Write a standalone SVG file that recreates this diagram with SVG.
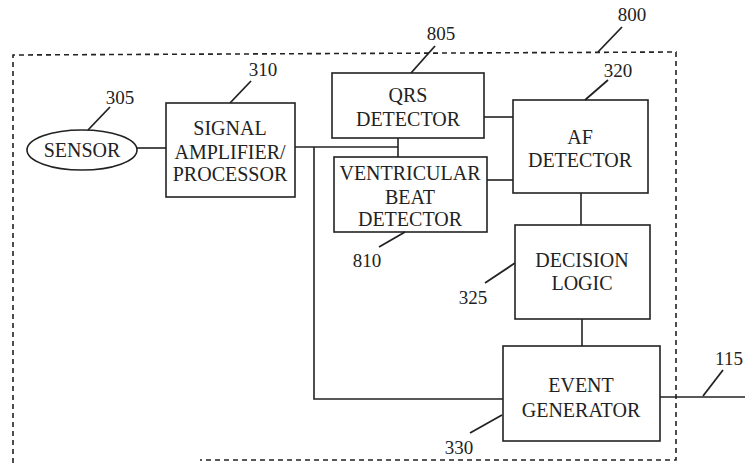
<svg xmlns="http://www.w3.org/2000/svg" width="745" height="463" viewBox="0 0 745 463">
<style>
.box{fill:#fff;stroke:#222;stroke-width:1.6}
.ln{fill:none;stroke:#222;stroke-width:1.6}
.lead{fill:none;stroke:#222;stroke-width:1.8}
.dash{fill:none;stroke:#222;stroke-width:1.6;stroke-dasharray:5 4}
text{font-family:"Liberation Serif","Times New Roman",serif;fill:#222;text-anchor:middle}
.t{font-size:20px}
.n{font-size:19px}
</style>
<rect width="745" height="463" fill="#fff"/>
<g id="boundary-800">
<path class="dash" d="M13,463 L13,55 L676,52 L676,460 L200,460"/>
<text class="n" x="632" y="21">800</text>
<path class="lead" d="M598,52 L622,27"/>
</g>
<g id="connectors">
<path class="ln" d="M137,148 L166,148"/>
<path class="ln" d="M295,147 L398,147"/>
<path class="ln" d="M398,138 L398,157"/>
<path class="ln" d="M314,147 L314,399 L503,399"/>
<path class="ln" d="M484,117 L513,117"/>
<path class="ln" d="M487,180 L513,180"/>
<path class="ln" d="M581,193 L581,225"/>
<path class="ln" d="M582,319 L582,346"/>
<path class="ln" d="M660,397 L745,397"/>
</g>
<g id="sensor-305">
<ellipse class="box" cx="82" cy="150" rx="55" ry="20"/>
<text class="t" x="82" y="157">SENSOR</text>
<text class="n" x="120" y="104">305</text>
<path class="lead" d="M88,130 L110,107"/>
</g>
<g id="signal-amplifier-310">
<rect class="box" x="166" y="103" width="129" height="94"/>
<text class="t" x="230" y="135">SIGNAL</text>
<text class="t" x="230" y="159">AMPLIFIER/</text>
<text class="t" x="230" y="181">PROCESSOR</text>
<text class="n" x="263" y="76">310</text>
<path class="lead" d="M230,103 L251,81"/>
</g>
<g id="qrs-detector-805">
<rect class="box" x="332" y="73" width="152" height="65"/>
<text class="t" x="408" y="102">QRS</text>
<text class="t" x="408" y="126">DETECTOR</text>
<text class="n" x="441" y="40">805</text>
<path class="lead" d="M411,73 L435,46"/>
</g>
<g id="ventricular-beat-detector-810">
<rect class="box" x="334" y="157" width="153" height="75"/>
<text class="t" x="410" y="180">VENTRICULAR</text>
<text class="t" x="410" y="204">BEAT</text>
<text class="t" x="410" y="226">DETECTOR</text>
<text class="n" x="367" y="267">810</text>
<path class="lead" d="M405,232 L379,247"/>
</g>
<g id="af-detector-320">
<rect class="box" x="513" y="100" width="135" height="93"/>
<text class="t" x="580" y="144">AF</text>
<text class="t" x="580" y="167">DETECTOR</text>
<text class="n" x="618" y="77">320</text>
<path class="lead" d="M585,100 L608,80"/>
</g>
<g id="decision-logic-325">
<rect class="box" x="515" y="225" width="135" height="94"/>
<text class="t" x="582" y="267">DECISION</text>
<text class="t" x="582" y="290">LOGIC</text>
<text class="n" x="473" y="304">325</text>
<path class="lead" d="M515,263 L485,283"/>
</g>
<g id="event-generator-330">
<rect class="box" x="503" y="346" width="157" height="95"/>
<text class="t" x="581" y="392">EVENT</text>
<text class="t" x="581" y="417">GENERATOR</text>
<text class="n" x="459" y="454">330</text>
<path class="lead" d="M502,415 L470,433"/>
</g>
<g id="output-115">
<text class="n" x="729" y="365">115</text>
<path class="lead" d="M703,396 L723,370"/>
</g>
</svg>
